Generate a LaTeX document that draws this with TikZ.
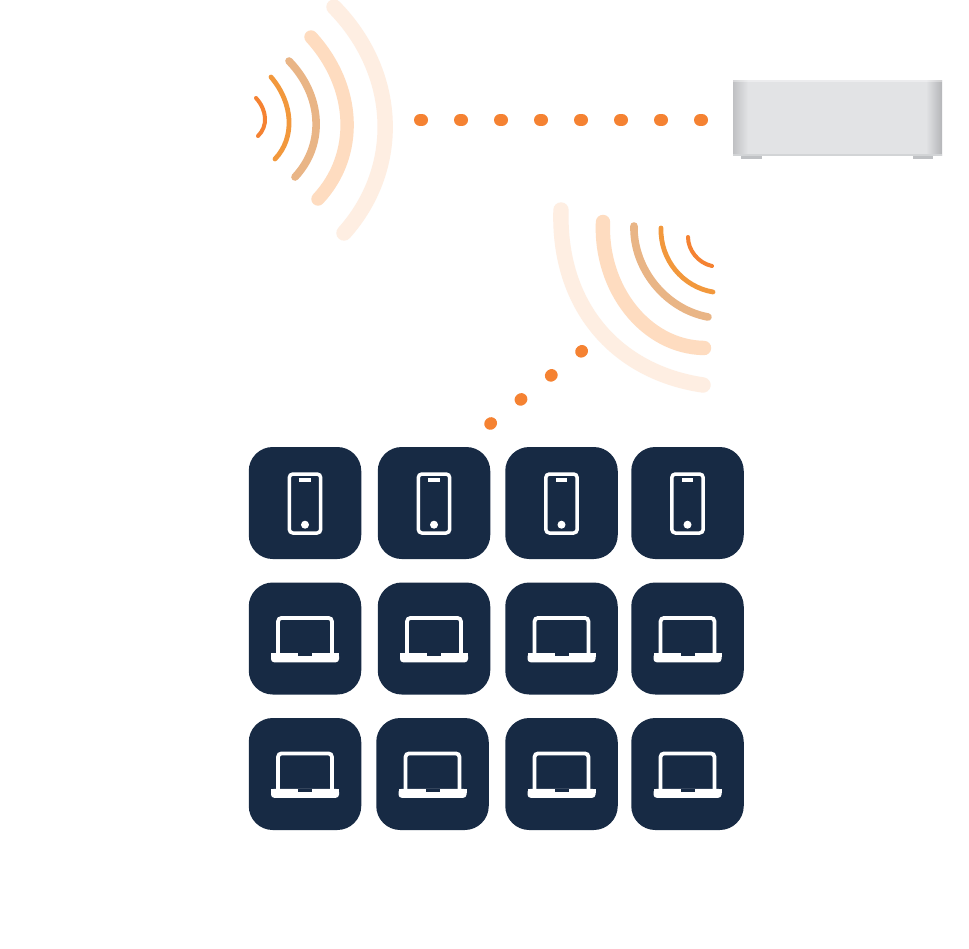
\documentclass[tikz,border=0pt]{standalone}
\usetikzlibrary{calc}
\definecolor{navy}{HTML}{172A44}
\definecolor{dotc}{HTML}{F58232}
\definecolor{wa}{HTML}{F58232}
\definecolor{wb}{HTML}{F2983C}
\definecolor{wc}{HTML}{E9B586}
\definecolor{wd}{HTML}{FEDCC0}
\definecolor{we}{HTML}{FEEEE2}
\definecolor{rbody}{HTML}{E2E3E5}
\definecolor{redge}{HTML}{B4B5B8}
\definecolor{rfoot}{HTML}{BFC1C4}
\newcommand{\wavearc}[4]{%
  \draw[#1,line cap=round]
    #2 .. controls ($#2!.58!($($#2!.5!#4$)!2.3!#3$)$)
    and ($#4!.58!($($#2!.5!#4$)!2.3!#3$)$) .. #4;}
\tikzset{
  tile/.style={draw=none,fill=navy,rounded corners=12pt,minimum width=56.25pt,minimum height=56pt,inner sep=0pt},
  dotline/.style={draw=dotc,line width=6pt,line cap=round},
  wavea/.style={draw=wa,line width=2pt,line cap=round},
  waveb/.style={draw=wb,line width=2.4pt,line cap=round},
  wavec/.style={draw=wc,line width=3.8pt,line cap=round},
  waved/.style={draw=wd,line width=6.7pt,line cap=round},
  wavee/.style={draw=we,line width=7.7pt,line cap=round},
  icon/.style={draw=white,line width=1.75pt,rounded corners=1.8pt},
  phone/.pic={
    \draw[icon] (-15.7,-29) rectangle (15.7,30);
    \fill[white] (-6,-24.7) rectangle (5.8,-21);
    \fill[white] (0,21.7) circle (2pt);
  },
  laptop/.pic={
    \draw[icon,line width=1.9pt] (-27,15) -- (-27,-20.6) -- (27,-20.6) -- (27,15);
    \fill[white,rounded corners=1.6pt] (-34,14.8) -- (34,14.8) -- (34,23.8) -- (-34,23.8) -- cycle;
    \fill[white] (-34,14.8) rectangle (34,18.5);
    \fill[navy] (-7,14.8) rectangle (7,17.5);
  }
}
\begin{document}
\begin{tikzpicture}[x=0.5pt,y=-0.5pt]
\useasboundingbox (0,0) rectangle (969,948);
\fill[white] (0,0) rectangle (969,948);
% upper waves
\wavearc{wavee}{(334,7)}{(385,120)}{(344,233)}
\wavearc{waved}{(311,37)}{(347,120)}{(318,199)}
\wavearc{wavec}{(289,61)}{(316,120)}{(295,177)}
\wavearc{waveb}{(271,77)}{(289,120)}{(275,159)}
\wavearc{wavea}{(256,98)}{(265,118)}{(258,136)}
% lower waves
\draw[wavee] (561,210) .. controls (558,305) and (615,372) .. (703,385);
\draw[waved,line width=7.2pt] (603,222) .. controls (600,288) and (645,347) .. (704,348);
\draw[wavec] (634,226) .. controls (633,268) and (665,309) .. (708,317);
\draw[waveb] (661,228) .. controls (660,260) and (683,287) .. (713,292);
\draw[wavea] (688,237) .. controls (688,250) and (698,263) .. (712,266);
% router
\fill[rfoot] (741,154) rectangle (762,159);
\fill[rfoot] (913,154) rectangle (933,159);
\node[fill=rbody,minimum width=104.5pt,minimum height=37.5pt,inner sep=0pt] (router) at (837.5,117.5) {};
\fill[left color=redge!75!rbody,right color=rbody] (733,80) rectangle (748,155);
\fill[left color=rbody,right color=redge] (926,80) rectangle (942,155);
\fill[white,opacity=.35] (733,80) rectangle (942,81.5);
\fill[rfoot!70!white] (733,154.2) rectangle (942,155.6);
% dots
\coordinate (da) at (420,120);
\coordinate (db) at (702,120);
\draw[dotline,dash pattern=on 1pt off 19pt] (da) -- (db);
\coordinate (dc) at (582,351);
\coordinate (dd) at (490,424);
\draw[dotline,dash pattern=on 0.5pt off 18.85pt] (dc) -- (dd);
% tiles
\node[tile] (t11) at (305,503) {}; \node[tile] (t12) at (434,503) {};
\node[tile] (t13) at (561.5,503) {}; \node[tile] (t14) at (687.5,503) {};
\node[tile] (t21) at (305,638.5) {}; \node[tile] (t22) at (434,638.5) {};
\node[tile] (t23) at (561.5,638.5) {}; \node[tile] (t24) at (687.5,638.5) {};
\node[tile] (t31) at (305,774) {}; \node[tile] (t32) at (432.5,774) {};
\node[tile] (t33) at (561.5,774) {}; \node[tile] (t34) at (687.5,774) {};
\foreach \n in {t11,t12,t13,t14} \path (\n.center) pic {phone};
\foreach \n in {t21,t22,t23,t24,t31,t32,t33,t34} \path (\n.center) pic {laptop};
\end{tikzpicture}
\end{document}
